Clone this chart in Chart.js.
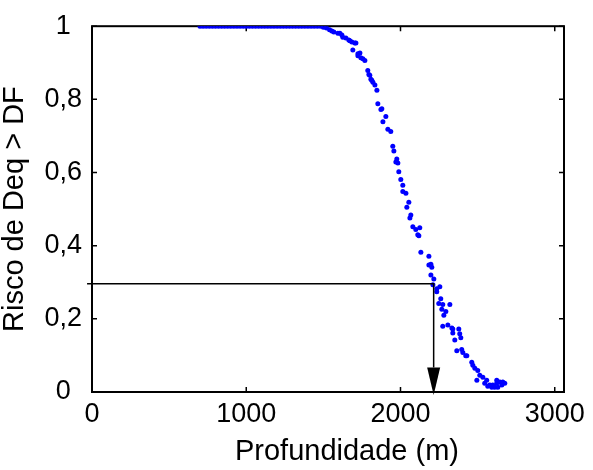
<!DOCTYPE html>
<html>
<head>
<meta charset="utf-8">
<script src="https://cdn.jsdelivr.net/npm/chart.js@4"></script>
<style>
  body { margin: 0; background: #fff; }
  canvas { display: block; }
</style>
</head>
<body>
<canvas id="chart" width="593" height="470"></canvas>
<script>
// profundidade (m) e risco
var depth = [
  700,720,740,760,780,800,820,840,860,880,900,920,940,960,980,1000,1020,1040,1060,1080,
  1100,1120,1140,1160,1180,1200,1220,1240,1260,1280,1300,1320,1340,1360,1380,1400,1420,1440,1460,1480,
  1500,1520,1540,
  1555,1568,1594,1607,1620,1626,1646,1665,1672,1685,1704,1711,1691,1724,1737,1724,1743,1756,1769,1788,
  1795,1801,1808,1814,1821,1834,1847,1853,1873,1879,1905,1886,1918,1937,1950,1957,1976,1970,1983,1989,
  2002,2015,2015,2035,2054,2041,2067,2061,2080,2099,2125,2112,2119,2132,2184,2184,2197,2203,2197,2216,
  2210,2235,2255,2235,2261,2248,2274,2320,2268,2294,2281,2274,2307,2333,2339,2378,2339,2384,2391,2352,
  2365,2397,2404,2423,2430,2462,2469,2482,2501,2514,2534,2495,2559,2546,2579,2598,2624,2644,2657,2676,
  2592,2631,2624,2663,2566,2611
]
var risk = [
  1,1,1,1,1,1,1,1,1,1,1,1,1,1,1,1,1,1,1,1,
  1,1,1,1,1,1,1,1,1,1,1,1,1,1,1,1,1,1,1,1,
  0.997,0.995,0.99,
  0.987,0.984,0.981,0.981,0.976,0.970,0.968,0.962,0.960,0.957,0.954,0.954,0.935,0.925,0.927,0.919,0.914,0.911,0.906,0.879,
  0.868,0.866,0.855,0.852,0.847,0.839,0.825,0.788,0.772,0.774,0.753,0.739,0.718,0.712,0.672,0.659,0.637,0.629,0.626,0.602,
  0.581,0.565,0.548,0.543,0.519,0.505,0.484,0.476,0.452,0.444,0.449,0.430,0.427,0.382,0.371,0.347,0.349,0.341,0.320,0.309,
  0.293,0.282,0.288,0.274,0.255,0.242,0.239,0.239,0.226,0.220,0.210,0.180,0.183,0.175,0.172,0.172,0.161,0.159,0.148,0.142,
  0.113,0.116,0.108,0.099,0.099,0.081,0.073,0.065,0.059,0.046,0.040,0.032,0.032,0.024,0.019,0.019,0.024,0.027,0.019,0.024,
  0.013,0.013,0.032,0.027,0.016,0.013
]
var xTicks = [0, 1000, 2000, 3000]
var yTicks = [0, 0.2, 0.4, 0.6, 0.8, 1]

// seta: risco 0,3 -> profundidade ~2215 m
var markDepth = 2215
var markRisk = 0.296

var font = "'Liberation Sans', Arial, sans-serif"

var points = depth.map(function(d, i) { return { x: d, y: risk[i] } })

// moldura estilo matlab com ticks para dentro
var framePlugin = {
  id: 'frame',
  beforeDatasetsDraw: function(chart) {
    var ctx = chart.ctx
    var a = chart.chartArea
    var xs = chart.scales.x, ys = chart.scales.y
    ctx.save()
    ctx.strokeStyle = '#000'
    ctx.lineWidth = 2
    ctx.strokeRect(a.left, a.top, a.right - a.left, a.bottom - a.top)
    ctx.lineWidth = 1.5
    ctx.beginPath()
    xTicks.forEach(function(v) {
      var p = xs.getPixelForValue(v)
      ctx.moveTo(p, a.bottom); ctx.lineTo(p, a.bottom - 5)
      ctx.moveTo(p, a.top); ctx.lineTo(p, a.top + 5)
    })
    yTicks.forEach(function(v) {
      var p = ys.getPixelForValue(v)
      ctx.moveTo(a.left, p); ctx.lineTo(a.left + 5, p)
      ctx.moveTo(a.right, p); ctx.lineTo(a.right - 5, p)
    })
    ctx.stroke()
    ctx.restore()
  },
  afterDatasetsDraw: function(chart) {
    var ctx = chart.ctx
    var xs = chart.scales.x, ys = chart.scales.y
    var px = xs.getPixelForValue(markDepth)
    var py = ys.getPixelForValue(markRisk)
    var headTop = ys.getPixelForValue(0.067)
    var tip = ys.getPixelForValue(-0.008)
    ctx.save()
    ctx.strokeStyle = '#000'
    ctx.fillStyle = '#000'
    ctx.lineWidth = 1.5
    ctx.beginPath()
    ctx.moveTo(xs.getPixelForValue(-32), py)
    ctx.lineTo(px, py)
    ctx.lineTo(px, headTop)
    ctx.stroke()
    ctx.beginPath()
    ctx.moveTo(px - 6.5, headTop)
    ctx.lineTo(px + 6.5, headTop)
    ctx.lineTo(px, tip)
    ctx.closePath()
    ctx.fill()
    ctx.restore()
  }
}

new Chart(document.getElementById('chart'), {
  type: 'scatter',
  data: {
    datasets: [{
      data: points,
      backgroundColor: '#0000ff',
      borderWidth: 0,
      pointRadius: 2.5,
      pointHoverRadius: 2.5
    }]
  },
  options: {
    responsive: false,
    animation: false,
    devicePixelRatio: 1,
    layout: { padding: { left: 0, top: 20, right: 29, bottom: 0 } },
    plugins: { legend: { display: false }, tooltip: { enabled: false } },
    scales: {
      x: {
        type: 'linear',
        min: 0,
        max: 3060,
        afterBuildTicks: function(s) { s.ticks = xTicks.map(function(v) { return { value: v } }) },
        afterFit: function(s) {
          s.height = 78
          // o xlabel do original fica um pouco deslocado para a direita
          var proto = Object.getPrototypeOf(s)
          s.drawTitle = function() {
            s.ctx.save()
            s.ctx.translate(19, 0)
            proto.drawTitle.call(s)
            s.ctx.restore()
          }
        },
        grid: { display: false, drawTicks: false },
        border: { display: false },
        ticks: {
          color: '#000',
          font: { family: font, size: 27 },
          padding: 6,
          maxRotation: 0,
          callback: function(v) { return String(v) }
        },
        title: {
          display: true,
          text: 'Profundidade (m)',
          color: '#000',
          font: { family: font, size: 29, lineHeight: 1.2 },
          padding: { top: 0, bottom: 1 }
        }
      },
      y: {
        type: 'linear',
        min: 0,
        max: 1,
        afterBuildTicks: function(s) { s.ticks = yTicks.map(function(v) { return { value: v } }) },
        afterFit: function(s) { s.width = 92 },
        grid: { display: false, drawTicks: false },
        border: { display: false },
        ticks: {
          color: '#000',
          font: { family: font, size: 27 },
          padding: 10,
          crossAlign: 'center',
          callback: function(v) { return String(+v.toFixed(1)).replace('.', ',') }
        },
        title: {
          display: true,
          text: 'Risco de Deq > DF',
          color: '#000',
          font: { family: font, size: 29, lineHeight: 1 },
          padding: { top: 0, bottom: 0 }
        }
      }
    }
  },
  plugins: [framePlugin]
})
</script>
</body>
</html>
